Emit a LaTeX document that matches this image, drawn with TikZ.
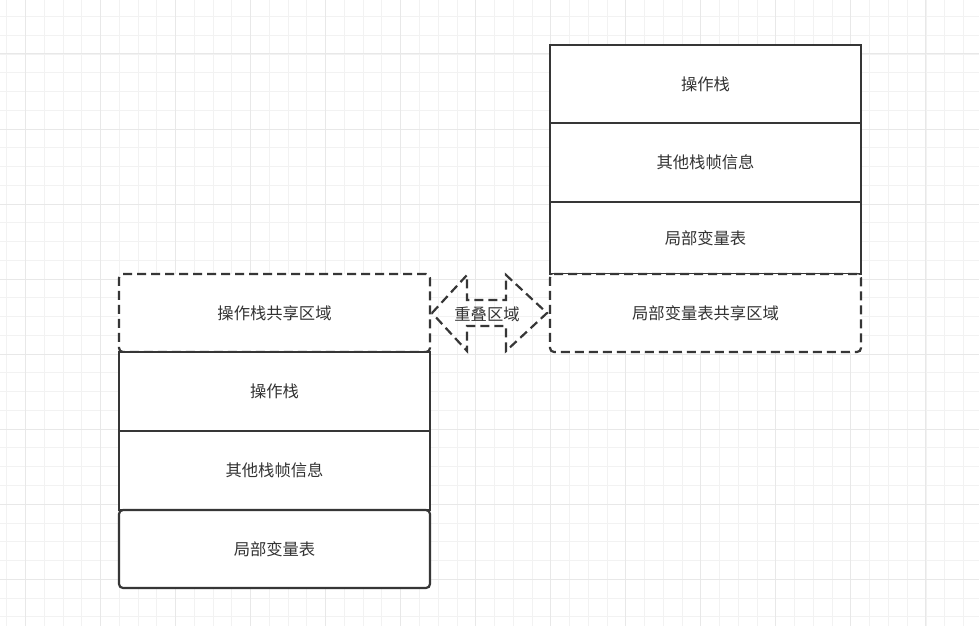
\documentclass[tikz,border=0pt]{standalone}
\usepackage{fontspec}
\setmainfont{Noto Sans CJK SC}
\definecolor{gridminor}{HTML}{F2F2F2}
\definecolor{gridmajor}{HTML}{E8E8E8}
\definecolor{edge}{HTML}{363636}
\definecolor{txt}{HTML}{333333}
\tikzset{
  minorline/.style={gridminor, line width=1pt},
  majorline/.style={gridmajor, line width=1pt},
  cell/.style={draw=edge, line width=2.2pt, fill=white, rectangle, minimum width=311pt,
    inner sep=0pt, text=txt, font=\fontsize{16.3}{19}\selectfont},
  sharedcell/.style={cell, dash pattern=on 9pt off 5pt, rounded corners=4pt},
  roundcell/.style={cell, rounded corners=4pt},
  lbl/.style={text=txt, font=\fontsize{16.3}{19}\selectfont, inner sep=0pt},
  dasharrow/.style={draw=edge, line width=2.2pt, dash pattern=on 9pt off 5pt, line join=miter}
}
\begin{document}
\begin{tikzpicture}[x=1pt,y=-1pt]
\useasboundingbox (0,0) rectangle (979,626);
\fill[white] (0,0) rectangle (979,626);
% grid
\foreach \i in {0,...,52} { \draw[minorline] ({6.76+18.76*\i},0) -- ({6.76+18.76*\i},626); }
\foreach \i in {0,...,33} { \draw[minorline] (0,{16.5+18.76*\i}) -- (979,{16.5+18.76*\i}); }
\foreach \i in {0,...,13} { \draw[majorline] ({25.5+75.04*\i},0) -- ({25.5+75.04*\i},626); }
\foreach \i in {0,...,8} { \draw[majorline] (0,{54+75.04*\i}) -- (979,{54+75.04*\i}); }

% right stack
\node[cell, minimum height=78pt] (r1) at (705.5,84) {操作栈};
\node[cell, minimum height=79pt] (r2) at (705.5,162.5) {其他栈帧信息};
\node[cell, minimum height=72pt] (r3) at (705.5,238) {局部变量表};
\node[sharedcell, minimum height=78pt] (r4) at (705.5,313) {局部变量表共享区域};

% left stack
\node[sharedcell, minimum height=78pt] (l1) at (274.5,313) {操作栈共享区域};
\node[cell, minimum height=79pt] (l2) at (274.5,391.5) {操作栈};
\node[cell, minimum height=79pt] (l3) at (274.5,470.5) {其他栈帧信息};
\node[roundcell, minimum height=78pt] (l4) at (274.5,549) {局部变量表};

% double arrow
\coordinate (tipL) at (432,313);
\coordinate (tipR) at (547,313);
\draw[dasharrow] (tipL) -- (467,275) -- (467,300) -- (506,300) -- (506,275) -- (tipR)
  -- (506,351) -- (506,326) -- (467,326) -- (467,351) -- cycle;
\node[lbl] (ov) at (487,314) {重叠区域};
\end{tikzpicture}
\end{document}
